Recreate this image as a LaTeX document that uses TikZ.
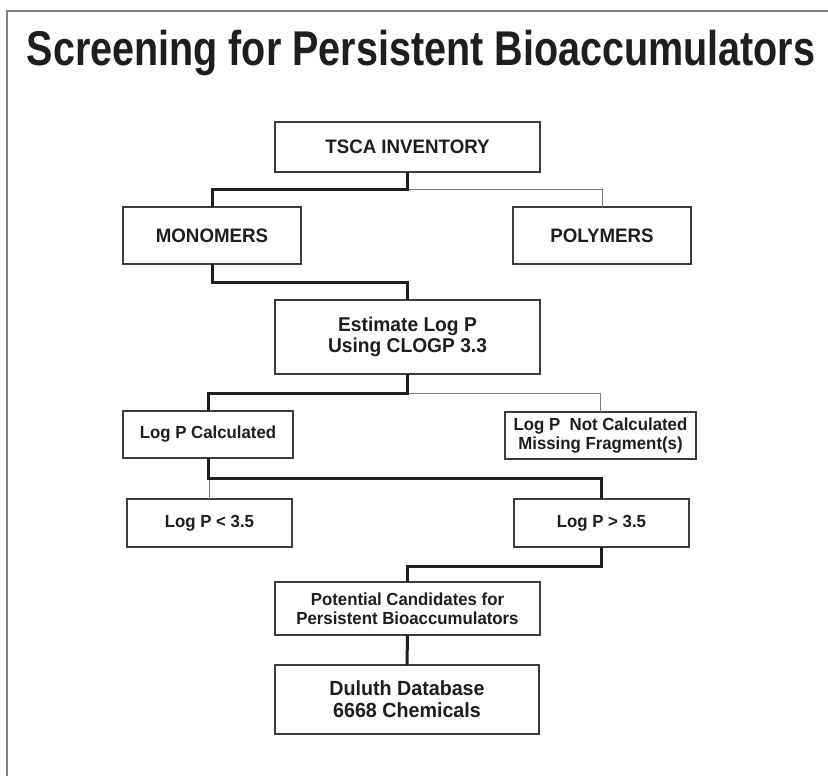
\documentclass[tikz,border=0pt]{standalone}
\usepackage{fontspec}
\setmainfont{Liberation Sans}[FakeStretch=0.96]
\newfontfamily\titlefont{Liberation Sans}[FakeStretch=0.81]
\usetikzlibrary{calc}
\definecolor{txt}{HTML}{1E1E1E}
\definecolor{boxc}{HTML}{3C3C3C}
\definecolor{thingray}{HTML}{7A7A7A}
\definecolor{framec}{HTML}{808080}
\tikzset{
  box/.style={draw=boxc, line width=1.1pt, fill=white, inner sep=0pt, outer sep=0pt,
              align=center, text=txt},
  bigtxt/.style={font=\fontsize{19.5}{22}\selectfont\bfseries},
  midtxt/.style={font=\fontsize{20}{21}\selectfont\bfseries},
  smalltxt/.style={font=\fontsize{17.5}{18.5}\selectfont\bfseries},
  thickl/.style={line width=3pt, draw=txt},
  thinl/.style={line width=0.9pt, draw=thingray}
}
\begin{document}
\begin{tikzpicture}[x=1pt,y=-1pt]
\useasboundingbox (0,0) rectangle (828,776);
\fill[white] (0,0) rectangle (828,776);
\draw[framec, line width=1.2pt] (7,11) rectangle (840,790);

\node[anchor=base, text=txt, font=\fontsize{48.8}{50}\titlefont\bfseries] (title) at (421,66)
  {Screening for Persistent Bioaccumulators};

\node[box, bigtxt, minimum width=265pt, minimum height=50pt] (tsca) at (407.5,147) {TSCA INVENTORY};
\node[box, bigtxt, minimum width=178pt, minimum height=57pt] (mono) at (212,235.5) {MONOMERS};
\node[box, bigtxt, minimum width=178pt, minimum height=57pt] (poly) at (602,235.5) {POLYMERS};
\node[box, midtxt, minimum width=265pt, minimum height=74pt] (est) at (407.5,337) {Estimate Log P\\Using CLOGP 3.3};
\node[box, smalltxt, minimum width=170pt, minimum height=47pt] (calc) at (208,434.5) {Log P Calculated};
\node[box, smalltxt, minimum width=191pt, minimum height=47pt] (notc) at (600.5,435.5) {Log P\ \ Not Calculated\\Missing Fragment(s)};
\node[box, smalltxt, minimum width=165pt, minimum height=48pt] (lt) at (209.5,523) {Log P {<} 3.5};
\node[box, smalltxt, minimum width=175pt, minimum height=48pt] (gt) at (601.5,523) {Log P {>} 3.5};
\node[box, smalltxt, font=\fontsize{17.5}{19}\selectfont\bfseries, minimum width=265pt, minimum height=53pt] (pot) at (407.5,608.5) {Potential Candidates for\\Persistent Bioaccumulators};
\node[box, font=\fontsize{20.5}{22}\selectfont\bfseries, minimum width=264pt, minimum height=69pt] (dul) at (407,699.5) {Duluth Database\\6668 Chemicals};

% thin connectors
\draw[thinl] (tsca.south) ++(0,17) -| (poly.north);
\draw[thinl] (est.south) ++(0,19) -| (notc.north);
\draw[thinl] (calc.south) ++(0,20) -| (lt.north);
% thick connectors
\draw[thickl] (tsca.south) -- ++(0,17) -| (mono.north);
\draw[thickl] (mono.south) -- ++(0,18) -| (est.north);
\draw[thickl] (est.south) -- ++(0,19) -| (calc.north);
\draw[thickl] (calc.south) -- ++(0,20) -| (gt.north);
\draw[thickl] (gt.south) -- ++(0,19) -| (pot.north);
\draw[thickl] (pot.south) -- (dul.north);
\end{tikzpicture}
\end{document}
